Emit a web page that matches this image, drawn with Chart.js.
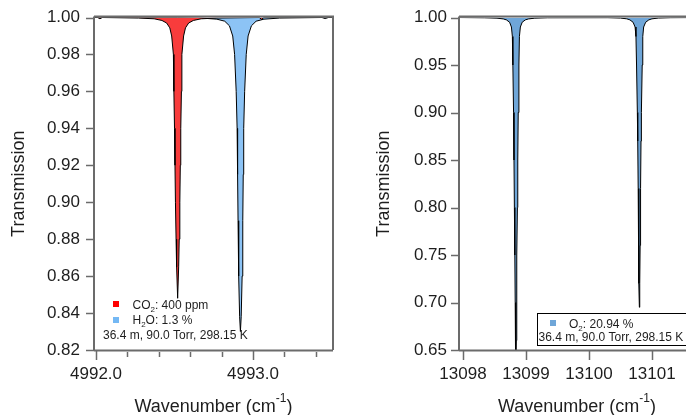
<!DOCTYPE html>
<html>
<head>
<meta charset="utf-8">
<script src="https://cdn.jsdelivr.net/npm/chart.js@4.4.1/dist/chart.umd.min.js"></script>
<style>
  html, body { margin: 0; padding: 0; background: #fff; width: 686px; height: 415px; overflow: hidden; }
  canvas { position: absolute; top: 0; }
  #left { left: 0; }
  #right { left: 345px; }
</style>
</head>
<body>
<canvas id="left" width="345" height="415"></canvas>
<canvas id="right" width="405" height="415"></canvas>
<script>
// ===== DATA =====
// left panel: CO2 + H2O near 4992.7 cm-1
const co2Wn = [4991.98, 4992.01, 4992.025, 4992.04, 4992.27, 4992.37, 4992.42, 4992.45, 4992.47, 4992.482,
  4992.493, 4992.496, 4992.50, 4992.503, 4992.506, 4992.51, 4992.5135, 4992.52, 4992.5265, 4992.53,
  4992.534, 4992.537, 4992.54, 4992.544, 4992.547, 4992.558, 4992.57, 4992.59, 4992.62, 4992.67,
  4992.77, 4993.04, 4993.055, 4993.07, 4993.52];
const co2T = [1.0, 1.0, 0.9993, 1.0, 0.9997, 0.9993, 0.9984, 0.997, 0.9944, 0.990,
  0.980, 0.960, 0.940, 0.920, 0.900, 0.880, 0.865, 0.848, 0.865, 0.880,
  0.900, 0.920, 0.940, 0.960, 0.980, 0.990, 0.9944, 0.997, 0.9984, 0.9993,
  0.9997, 1.0, 0.999, 1.0, 1.0];

const h2oWn = [4991.98, 4992.52, 4992.67, 4992.77, 4992.82, 4992.85, 4992.871, 4992.883, 4992.893, 4992.899,
  4992.902, 4992.905, 4992.909, 4992.915, 4992.92, 4992.925, 4992.931, 4992.935, 4992.938, 4992.941,
  4992.947, 4992.957, 4992.969, 4992.99, 4993.02, 4993.07, 4993.17, 4993.44, 4993.46, 4993.48, 4993.52];
const h2oT = [1.0, 1.0, 0.9997, 0.9991, 0.998, 0.9955, 0.990, 0.980, 0.960, 0.940,
  0.915, 0.890, 0.860, 0.838, 0.830, 0.838, 0.860, 0.890, 0.915, 0.940,
  0.960, 0.980, 0.990, 0.9955, 0.998, 0.9991, 0.9997, 1.0, 0.9994, 1.0, 1.0];

// right panel: O2 lines near 13100 cm-1
const o2Wn = [13097.9, 13098.34, 13098.54, 13098.64, 13098.69, 13098.74, 13098.769, 13098.784, 13098.792, 13098.803,
  13098.81, 13098.816, 13098.823, 13098.829, 13098.834, 13098.84, 13098.846, 13098.851, 13098.857, 13098.864,
  13098.87, 13098.877, 13098.888, 13098.896, 13098.911, 13098.94, 13098.99, 13099.04, 13099.14, 13099.34,
  13100.30, 13100.50, 13100.60, 13100.65, 13100.70, 13100.732, 13100.746, 13100.755, 13100.768, 13100.774,
  13100.781, 13100.788, 13100.794, 13100.80, 13100.806, 13100.812, 13100.819, 13100.826, 13100.832, 13100.845,
  13100.854, 13100.868, 13100.90, 13100.95, 13101.00, 13101.10, 13101.30, 13101.80];
const o2T = [1.0, 0.9997, 0.9993, 0.9985, 0.9975, 0.995, 0.990, 0.980, 0.950, 0.900,
  0.850, 0.800, 0.750, 0.700, 0.660, 0.620, 0.660, 0.700, 0.750, 0.800,
  0.850, 0.900, 0.950, 0.980, 0.990, 0.995, 0.9975, 0.9985, 0.9993, 0.9997,
  0.9998, 0.9994, 0.9986, 0.9975, 0.995, 0.990, 0.980, 0.950, 0.900, 0.870,
  0.820, 0.760, 0.720, 0.695, 0.720, 0.760, 0.820, 0.870, 0.900, 0.950,
  0.980, 0.990, 0.995, 0.9975, 0.9986, 0.9994, 0.9998, 1.0];

// ticks
const leftYTicks = [0.82, 0.84, 0.86, 0.88, 0.90, 0.92, 0.94, 0.96, 0.98, 1.00];
const leftXTicks = [4992.0, 4993.0];
const leftXMinor = [4992.2, 4992.4, 4992.6, 4992.8, 4993.2, 4993.4];
const rightYTicks = [0.65, 0.70, 0.75, 0.80, 0.85, 0.90, 0.95, 1.00];
const rightXTicks = [13098, 13099, 13100, 13101];

const FONT = '"Liberation Sans", Arial, sans-serif';
const TXT = '#1e1e1e';
const AXIS = '#6b6b6b';

// ===== RICH TEXT (sub / superscript) =====
function richWidth(ctx, parts, size) {
  let w = 0;
  parts.forEach(p => {
    ctx.font = `${p.sub || p.sup ? Math.round(size * 0.68) : size}px ${FONT}`;
    w += ctx.measureText(p.t).width;
  });
  return w;
}
function drawRich(ctx, parts, x, y, size) {
  parts.forEach(p => {
    const s = p.sub || p.sup ? Math.round(size * 0.68) : size;
    ctx.font = `${s}px ${FONT}`;
    const dy = p.sub ? size * 0.28 : p.sup ? -size * 0.55 : 0;
    ctx.fillText(p.t, x, y + dy);
    x += ctx.measureText(p.t).width;
  });
}

// ===== FRAME, TICK MARKS, TITLES, NOTES =====
const framePlugin = {
  id: 'frame',
  afterDatasetsDraw(chart, args, opts) {
    const { ctx, chartArea: a, scales } = chart;
    ctx.save();
    ctx.strokeStyle = AXIS;
    ctx.lineWidth = 2;
    ctx.beginPath();
    ctx.moveTo(a.left, a.bottom); ctx.lineTo(a.left, a.top - 1);
    ctx.moveTo(a.left, a.top - 1); ctx.lineTo(a.right + 1, a.top - 1);
    ctx.moveTo(a.right, a.top - 1); ctx.lineTo(a.right, a.bottom);
    ctx.moveTo(a.left, a.bottom + 0.5); ctx.lineTo(a.right, a.bottom + 0.5);
    ctx.stroke();

    ctx.lineWidth = 1.5;
    ctx.beginPath();
    scales.y.ticks.forEach(t => {
      const y = Math.round(scales.y.getPixelForValue(t.value)) + 0.5;
      ctx.moveTo(a.left - 8, y); ctx.lineTo(a.left, y);
    });
    scales.x.ticks.forEach(t => {
      const x = Math.round(scales.x.getPixelForValue(t.value)) + 0.5;
      ctx.moveTo(x, a.bottom + 1); ctx.lineTo(x, a.bottom + 10);
    });
    (opts.xMinor || []).forEach(v => {
      const x = Math.round(scales.x.getPixelForValue(v)) + 0.5;
      ctx.moveTo(x, a.bottom + 2); ctx.lineTo(x, a.bottom + 7);
    });
    ctx.stroke();

    // axis titles
    ctx.fillStyle = TXT;
    ctx.textBaseline = 'alphabetic';
    ctx.textAlign = 'left';
    ctx.save();
    ctx.translate(opts.yTitleX, (a.top + a.bottom) / 2);
    ctx.rotate(-Math.PI / 2);
    ctx.font = `18px ${FONT}`;
    ctx.textAlign = 'center';
    ctx.fillText('Transmission', 0, 6);
    ctx.restore();

    const xt = [{ t: 'Wavenumber (cm' }, { t: '-1', sup: true }, { t: ')' }];
    const w = richWidth(ctx, xt, 18);
    drawRich(ctx, xt, (a.left + a.right) / 2 - w / 2, a.bottom + 62, 18);

    if (opts.notes) opts.notes(ctx, a);
    ctx.restore();
  }
};

function makeSet(wn, tr, fillColor) {
  return {
    data: wn.map((x, i) => ({ x, y: tr[i] })),
    borderColor: '#000',
    borderWidth: 1,
    backgroundColor: fillColor,
    fill: { value: 1 },
    pointRadius: 0,
    tension: 0
  };
}

function makeScales(xMin, xMax, xTicks, xDigits, yMin, yMax, yTicks, yWidth, yPad) {
  const tickFont = { family: FONT, size: 17 };
  return {
    x: {
      type: 'linear', min: xMin, max: xMax,
      grid: { display: false, drawTicks: false }, border: { display: false },
      ticks: { font: tickFont, color: TXT, padding: 14, maxRotation: 0, autoSkip: false,
        callback: v => v.toFixed(xDigits) },
      afterBuildTicks: s => { s.ticks = xTicks.map(v => ({ value: v })); },
      afterFit: s => { s.height = 65; }
    },
    y: {
      min: yMin, max: yMax,
      grid: { display: false, drawTicks: false }, border: { display: false },
      ticks: { font: tickFont, color: TXT, padding: yPad, autoSkip: false,
        callback: v => v.toFixed(2) },
      afterBuildTicks: s => { s.ticks = yTicks.map(v => ({ value: v })); },
      // keep the label half-heights from pushing the plot down
      afterFit: s => { s.width = yWidth; s.paddingTop = 0; s.paddingBottom = 0; }
    }
  };
}

// ===== LEFT PANEL =====
new Chart(document.getElementById('left'), {
  type: 'line',
  data: { datasets: [
    makeSet(co2Wn, co2T, '#f83c3c'),
    makeSet(h2oWn, h2oT, '#8cc3f5')
  ] },
  options: {
    responsive: false, animation: false,
    layout: { padding: { top: 17.5, right: 12, left: 0, bottom: 0 } },
    plugins: {
      legend: { display: false }, tooltip: { enabled: false },
      frame: {
        xMinor: leftXMinor,
        yTitleX: 18,
        notes: (ctx, a) => {
          ctx.fillStyle = '#f00'; ctx.fillRect(a.left + 19, a.bottom - 49, 6, 6);
          ctx.fillStyle = '#74b8f4'; ctx.fillRect(a.left + 19, a.bottom - 33, 6, 6);
          ctx.fillStyle = TXT;
          drawRich(ctx, [{ t: 'CO' }, { t: '2', sub: true }, { t: ': 400 ppm' }], a.left + 38.5, a.bottom - 41, 12);
          drawRich(ctx, [{ t: 'H' }, { t: '2', sub: true }, { t: 'O: 1.3 %' }], a.left + 38.5, a.bottom - 26, 12);
          drawRich(ctx, [{ t: '36.4 m, 90.0 Torr, 298.15 K' }], a.left + 9, a.bottom - 11, 12);
        }
      }
    },
    scales: makeScales(4991.987, 4993.51, leftXTicks, 1, 0.82, 1.0, leftYTicks, 94, 14)
  },
  plugins: [framePlugin]
});

// ===== RIGHT PANEL =====
new Chart(document.getElementById('right'), {
  type: 'line',
  data: { datasets: [ makeSet(o2Wn, o2T, '#6fa6d8') ] },
  options: {
    responsive: false, animation: false,
    layout: { padding: { top: 17.5, right: 55, left: 0, bottom: 0 } },
    plugins: {
      legend: { display: false }, tooltip: { enabled: false },
      frame: {
        yTitleX: 38,
        notes: (ctx, a) => {
          ctx.fillStyle = '#fff';
          ctx.fillRect(a.left + 78, a.bottom - 37, 152, 32);
          ctx.strokeStyle = '#000'; ctx.lineWidth = 1;
          ctx.strokeRect(a.left + 78.5, a.bottom - 36.5, 152, 32);
          ctx.fillStyle = '#6fa6d8'; ctx.fillRect(a.left + 91, a.bottom - 30, 6, 6);
          ctx.fillStyle = TXT;
          drawRich(ctx, [{ t: 'O' }, { t: '2', sub: true }, { t: ': 20.94 %' }], a.left + 110, a.bottom - 22.5, 12);
          drawRich(ctx, [{ t: '36.4 m, 90.0 Torr, 298.15 K' }], a.left + 79.5, a.bottom - 9.5, 12);
        }
      }
    },
    scales: makeScales(13097.937, 13101.683, rightXTicks, 0, 0.65, 1.0, rightYTicks, 114, 12)
  },
  plugins: [framePlugin]
});
</script>
</body>
</html>
